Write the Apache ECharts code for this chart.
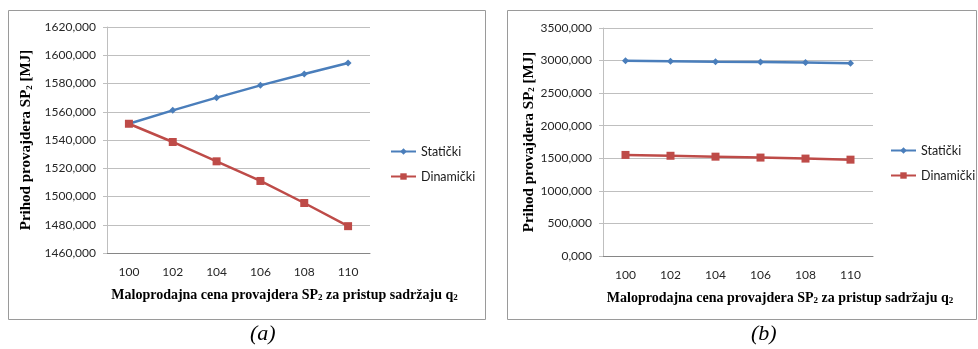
<!DOCTYPE html>
<html><head><meta charset="utf-8">
<script src="https://cdn.jsdelivr.net/npm/echarts@6/dist/echarts.min.js"></script>
<style>html,body{margin:0;padding:0;background:#fff}#c{width:978px;height:349px}</style>
</head><body><div id="c"></div>
<script>
const categories = ['100','102','104','106','108','110'];
const staticA = [1551.5, 1561, 1570, 1578.7, 1586.7, 1594.5];
const dynamicA = [1551.5, 1538.6, 1524.9, 1511, 1495.4, 1479];
const staticB = [2996, 2991, 2983, 2977, 2970, 2958];
const dynamicB = [1551.5, 1538.6, 1524.9, 1511, 1495.4, 1479];
const seriesNames = ['Statički', 'Dinamički'];
const yTitle = 'Prihod provajdera SP{s|2} [MJ]';
const xTitle = 'Maloprodajna cena provajdera SP{s|2} za pristup sadržaju q{s|2}';

const BLUE = '#4a7ebb', RED = '#be4b48';
const fmt = v => v.toFixed(3).replace('.', ',');
function titleStyle(size, pad){
  return {fontFamily:'Liberation Serif', fontWeight:'bold', fontSize:size, color:'#000', padding:pad,
    rich:{s:{fontFamily:'Liberation Serif', fontWeight:'bold', fontSize:Math.round(size*0.62), color:'#000', verticalAlign:'bottom'}}};
}
const labelFont = {fontFamily:'Lato', fontSize:12, color:'#262626'};

function xAxis(gi, gap, pad){
  return {type:'category', gridIndex:gi, data:categories, boundaryGap:true,
    axisLine:{lineStyle:{color:'#868686'}}, axisTick:{show:false},
    axisLabel:Object.assign({margin:13}, labelFont),
    name:xTitle, nameLocation:'middle', nameGap:gap, nameTextStyle:titleStyle(14, pad)};
}
function yAxis(gi, min, max, interval, gap){
  return {type:'value', gridIndex:gi, min, max, interval,
    axisLine:{show:true, lineStyle:{color:'#bfbfbf'}},
    axisTick:{show:true, length:4, lineStyle:{color:'#bfbfbf'}},
    splitLine:{lineStyle:{color:'#bfbfbf'}},
    axisLabel:Object.assign({margin:11, formatter:fmt}, labelFont),
    name:yTitle, nameLocation:'middle', nameRotate:90, nameGap:gap, nameTextStyle:titleStyle(15, 0)};
}
function ser(name, data, gi, color, sym, size){
  return {type:'line', name, data, xAxisIndex:gi, yAxisIndex:gi, color,
    symbol:sym, symbolSize:size, showSymbol:true, lineStyle:{width:2.5, color},
    itemStyle:{color}, animation:false};
}
function legend(names, left, top){
  return {data:names.map(n=>({name:n})), left, top, padding:0, orient:'vertical', itemGap:12,
    itemWidth:25, itemHeight:8, formatter:n=>n.trim(),
    textStyle:{fontFamily:'Lato', fontSize:12.5, color:'#1a1a1a'}};
}
const chart = echarts.init(document.getElementById('c'), null, {renderer:'canvas'});
chart.setOption({
  animation:false,
  grid:[{left:107, top:27, width:263, height:226},
        {left:603, top:28, width:270, height:228}],
  xAxis:[xAxis(0, 35, [0,0,0,92]), xAxis(1, 35, [0,0,0,84])],
  yAxis:[yAxis(0, 1460, 1620, 20, 73), yAxis(1, 0, 3500, 500, 65)],
  legend:[legend(seriesNames, 390, 145), legend(seriesNames.map(n=>n+' '), 890, 144)],
  series:[
    ser(seriesNames[0], staticA, 0, BLUE, 'diamond', 7),
    ser(seriesNames[1], dynamicA, 0, RED, 'rect', 8),
    ser(seriesNames[0]+' ', staticB, 1, BLUE, 'diamond', 7),
    ser(seriesNames[1]+' ', dynamicB, 1, RED, 'rect', 8)
  ],
  graphic:[
    {type:'rect', shape:{x:8.5, y:10.5, width:477, height:309}, style:{fill:'none', stroke:'#9a9a9a', lineWidth:1}, silent:true},
    {type:'rect', shape:{x:507.5, y:10.5, width:469, height:309}, style:{fill:'none', stroke:'#9a9a9a', lineWidth:1}, silent:true},
    {type:'text', left:250, top:323, style:{text:'(a)', font:'italic 22px "Liberation Serif"', fill:'#000'}},
    {type:'text', left:751, top:323, style:{text:'(b)', font:'italic 22px "Liberation Serif"', fill:'#000'}}
  ]
});
</script></body></html>
